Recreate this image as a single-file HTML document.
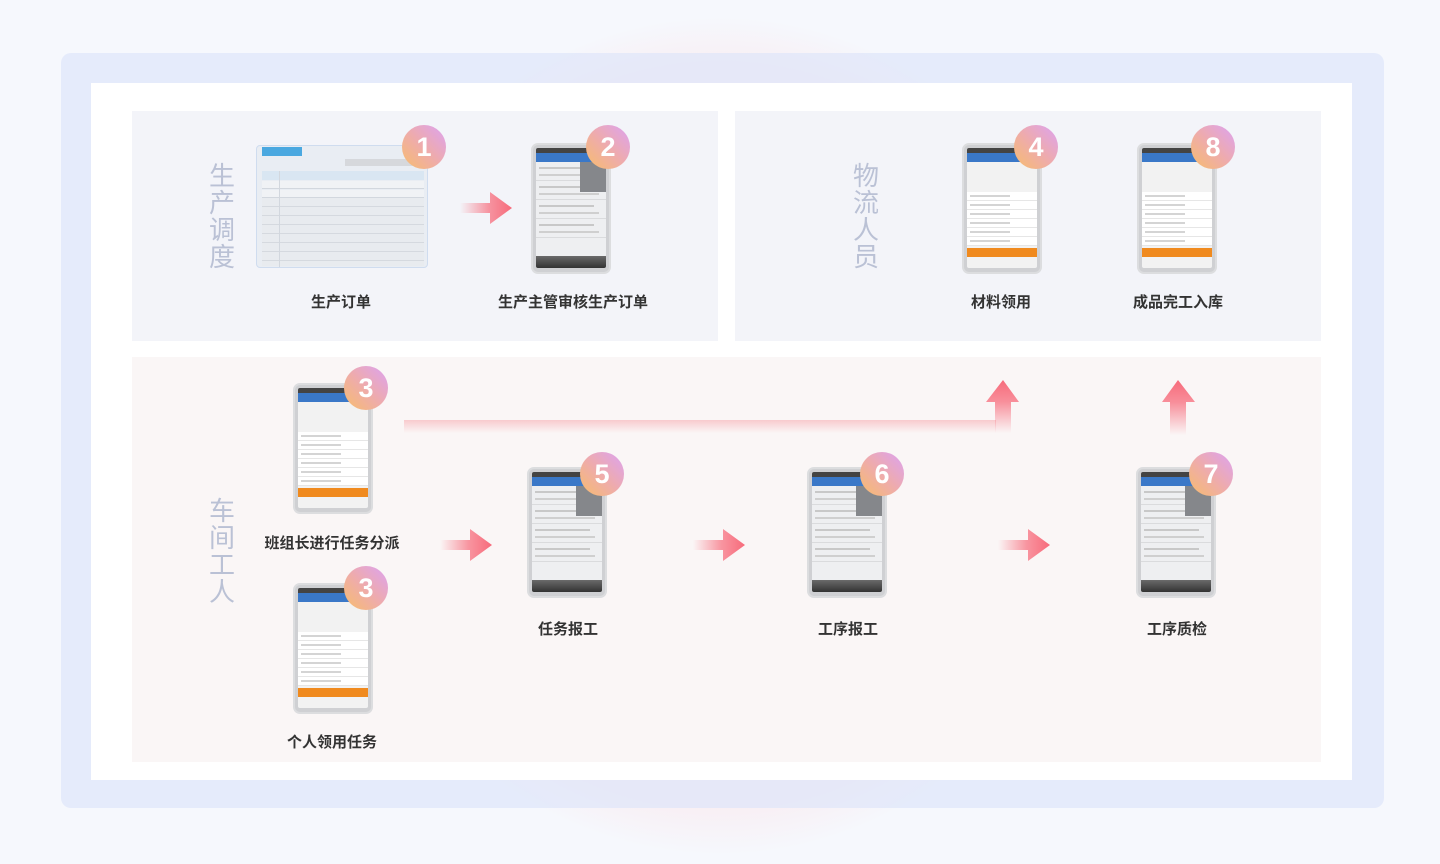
<!DOCTYPE html>
<html><head><meta charset="utf-8"><style>
*{margin:0;padding:0;box-sizing:border-box}
body{width:1440px;height:864px;background:#f6f8fd;position:relative;overflow:hidden;font-family:"Liberation Sans","Noto Sans CJK SC",sans-serif}
.a{position:absolute}
.vt{position:absolute;width:30px;font-size:26px;line-height:27px;color:#bac1d5;text-align:center}
.lbl{position:absolute;font-size:15px;font-weight:bold;color:#333;transform:translateX(-50%);white-space:nowrap}
.badge{position:absolute;width:44px;height:44px;border-radius:50%;background:linear-gradient(45deg,#f7bd6c 0%,#eeabad 50%,#dca2f2 100%);color:#fff;font-size:27px;font-weight:bold;text-align:center;line-height:44px;margin:-22px 0 0 -22px}
.ph{position:absolute;width:80px;height:131px;border-radius:7px;background:#cfd0d3;border:2px solid #dcdddf;padding:3px 3px 4px 3px;overflow:hidden}
.ph .sc{width:100%;height:100%;background:#eeeff1;position:relative;overflow:hidden;border-radius:2px}
.ph .st{height:5px;background:#444}
.ph .hd{height:9px;background:#3a78c8}
.ph .row{height:19px;border-bottom:1px solid #dadbdd;position:relative}
.ph .row:before{content:"";position:absolute;left:3px;top:5px;width:55px;height:2px;background:#c8c8c8}
.ph .row:after{content:"";position:absolute;left:3px;top:12px;width:60px;height:2px;background:#cfcfcf}
.ph .ft{position:absolute;bottom:0;left:0;right:0;height:12px;background:linear-gradient(#6a6a6a,#333)}
.ph .ov{position:absolute;right:0;top:14px;width:26px;height:30px;background:#85878b}
.pb .sc{background:#f2f2f2}
.pb .f{height:9px;border-bottom:1px solid #e6e6e6;background:#fff;position:relative}
.pb .f:before{content:"";position:absolute;left:3px;top:3px;width:40px;height:2px;background:#d4d4d4}
.pb .btn{height:9px;background:#f08a1e;margin-top:2px}
</style></head><body>
<div class="a" style="left:330px;top:18px;width:780px;height:836px;border-radius:50%;background:radial-gradient(ellipse at center,#fbeef1 0%,#f8eef3 62%,rgba(246,248,253,0) 71%)"></div>
<div class="a" style="left:61px;top:53px;width:1323px;height:755px;border-radius:10px;background:rgba(222,230,250,0.7)"></div>
<div class="a" style="left:91px;top:83px;width:1261px;height:697px;background:#fff"></div>
<div class="a" style="left:132px;top:111px;width:586px;height:230px;background:#f3f4f9"></div>
<div class="a" style="left:735px;top:111px;width:586px;height:230px;background:#f3f4f9"></div>
<div class="a" style="left:132px;top:357px;width:1189px;height:405px;background:#faf6f6"></div>

<div class="vt" style="left:207px;top:163px">生产调度</div>
<div class="vt" style="left:851px;top:163px">物流人员</div>
<div class="vt" style="left:207px;top:498px">车间工人</div>

<div class="a" style="left:256px;top:145px;width:172px;height:123px;background:#e9edf3;border:1px solid #cfdcef;border-radius:4px;overflow:hidden">
 <div class="a" style="left:5px;top:1px;width:40px;height:9px;background:#4aa8e0"></div>
 <div class="a" style="left:88px;top:13px;width:72px;height:7px;background:#d6d8dc"></div>
 <div class="a" style="left:5px;top:25px;width:162px;height:9px;background:#d9e6f2"></div>
 <div class="a" style="left:5px;top:35px;width:162px;height:8px;border-bottom:1px solid #d2d7de;background:#f0f2f5"></div>
 <div class="a" style="left:5px;top:44px;width:162px;height:8px;border-bottom:1px solid #d2d7de;background:#f0f2f5"></div>
 <div class="a" style="left:5px;top:52px;width:162px;height:68px;background:repeating-linear-gradient(#e8ebef 0 8px,#d5d9df 8px 9px)"></div>
 <div class="a" style="left:22px;top:25px;width:1px;height:98px;background:#d2d7de"></div>
</div>
<div class="ph" style="left:531px;top:143px"><div class="sc"><div class="st"></div><div class="hd"></div><div class="row"></div><div class="row"></div><div class="row"></div><div class="row"></div><div class="ov"></div><div class="ft"></div></div></div>
<div class="ph pb" style="left:962px;top:143px"><div class="sc"><div class="st"></div><div class="hd"></div><div style="height:30px"></div><div class="f"></div><div class="f"></div><div class="f"></div><div class="f"></div><div class="f"></div><div class="f"></div><div class="btn"></div></div></div>
<div class="ph pb" style="left:1137px;top:143px"><div class="sc"><div class="st"></div><div class="hd"></div><div style="height:30px"></div><div class="f"></div><div class="f"></div><div class="f"></div><div class="f"></div><div class="f"></div><div class="f"></div><div class="btn"></div></div></div>
<div class="ph pb" style="left:293px;top:383px"><div class="sc"><div class="st"></div><div class="hd"></div><div style="height:30px"></div><div class="f"></div><div class="f"></div><div class="f"></div><div class="f"></div><div class="f"></div><div class="f"></div><div class="btn"></div></div></div>
<div class="ph pb" style="left:293px;top:583px"><div class="sc"><div class="st"></div><div class="hd"></div><div style="height:30px"></div><div class="f"></div><div class="f"></div><div class="f"></div><div class="f"></div><div class="f"></div><div class="f"></div><div class="btn"></div></div></div>
<div class="ph" style="left:527px;top:467px"><div class="sc"><div class="st"></div><div class="hd"></div><div class="row"></div><div class="row"></div><div class="row"></div><div class="row"></div><div class="ov"></div><div class="ft"></div></div></div>
<div class="ph" style="left:807px;top:467px"><div class="sc"><div class="st"></div><div class="hd"></div><div class="row"></div><div class="row"></div><div class="row"></div><div class="row"></div><div class="ov"></div><div class="ft"></div></div></div>
<div class="ph" style="left:1136px;top:467px"><div class="sc"><div class="st"></div><div class="hd"></div><div class="row"></div><div class="row"></div><div class="row"></div><div class="row"></div><div class="ov"></div><div class="ft"></div></div></div>

<div class="badge" style="left:424px;top:147px">1</div>
<div class="badge" style="left:608px;top:147px">2</div>
<div class="badge" style="left:1036px;top:147px">4</div>
<div class="badge" style="left:1213px;top:147px">8</div>
<div class="badge" style="left:366px;top:388px">3</div>
<div class="badge" style="left:366px;top:588px">3</div>
<div class="badge" style="left:602px;top:474px">5</div>
<div class="badge" style="left:882px;top:474px">6</div>
<div class="badge" style="left:1211px;top:474px">7</div>

<div class="lbl" style="left:341px;top:291px">生产订单</div>
<div class="lbl" style="left:573px;top:291px">生产主管审核生产订单</div>
<div class="lbl" style="left:1001px;top:291px">材料领用</div>
<div class="lbl" style="left:1178px;top:291px">成品完工入库</div>
<div class="lbl" style="left:332px;top:532px">班组长进行任务分派</div>
<div class="lbl" style="left:332px;top:731px">个人领用任务</div>
<div class="lbl" style="left:568px;top:618px">任务报工</div>
<div class="lbl" style="left:848px;top:618px">工序报工</div>
<div class="lbl" style="left:1177px;top:618px">工序质检</div>

<svg class="a" style="left:0;top:0" width="1440" height="864">
<defs>
<linearGradient id="gr" x1="0" x2="1" y1="0" y2="0"><stop offset="0" stop-color="#f76b7b" stop-opacity="0"/><stop offset="0.55" stop-color="#f76b7b" stop-opacity="0.7"/><stop offset="1" stop-color="#f76b7b"/></linearGradient>
<linearGradient id="gu" x1="0" x2="0" y1="1" y2="0"><stop offset="0" stop-color="#f76b7b" stop-opacity="0"/><stop offset="0.6" stop-color="#f76b7b" stop-opacity="0.75"/><stop offset="1" stop-color="#f76b7b"/></linearGradient>
<linearGradient id="gl" x1="0" x2="0" y1="0" y2="1"><stop offset="0" stop-color="#f7a7ad" stop-opacity="0.55"/><stop offset="1" stop-color="#f7a7ad" stop-opacity="0"/></linearGradient>
<g id="ra"><path d="M0,-5 L30,-5 L30,-16 L52,0 L30,16 L30,5 L0,5 Z"/></g>
</defs>
<use href="#ra" x="460" y="208" fill="url(#gr)"/>
<use href="#ra" x="440" y="545" fill="url(#gr)"/>
<use href="#ra" x="693" y="545" fill="url(#gr)"/>
<use href="#ra" x="998" y="545" fill="url(#gr)"/>
<rect x="404" y="420" width="592" height="13" fill="url(#gl)"/>
<path d="M995,433 L995,402 L986,402 L1003,380 L1019,402 L1011,402 L1011,433 Z" fill="url(#gu)"/>
<path d="M1170,435 L1170,402 L1162,402 L1178,380 L1195,402 L1186,402 L1186,435 Z" fill="url(#gu)"/>
</svg>
</body></html>
